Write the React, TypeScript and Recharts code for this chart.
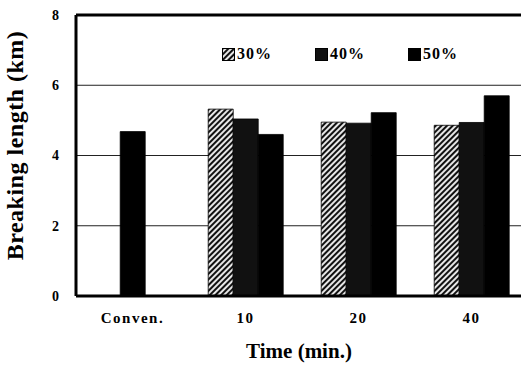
import React from "react";
import {
  BarChart, Bar, XAxis, YAxis, CartesianGrid, ReferenceLine,
} from "recharts";

const categories = ["Conven.", "10", "20", "40"];
const conven = [4.68, null, null, null];
const pct30 = [null, 5.32, 4.95, 4.86];
const pct40 = [null, 5.04, 4.92, 4.94];
const pct50 = [null, 4.6, 5.22, 5.7];
const yTicks = [0, 2, 4, 6, 8];

const FONT = "'Liberation Serif', 'DejaVu Serif', serif";

const data = categories.map((c, i) => ({
  name: c,
  conv: conven[i],
  p30: pct30[i],
  p40: pct40[i],
  p50: pct50[i],
}));

const legendItems = [
  { key: "p30", label: "30%", fill: "url(#hatch)" },
  { key: "p40", label: "40%", fill: "#111" },
  { key: "p50", label: "50%", fill: "#000" },
];

// legend sits inside the plot, drawn as plain html on top of the chart
function ChartLegend() {
  return (
    <div style={{ position: "absolute", left: 222, top: 45, display: "flex", fontFamily: FONT, fontWeight: "bold", fontSize: 16 }}>
      {legendItems.map((it) => (
        <div key={it.key} style={{ display: "flex", alignItems: "center", width: 93 }}>
          <svg width={13} height={13} style={{ marginRight: 2 }}>
            <rect x={0.5} y={0.5} width={12} height={12} fill={it.fill} stroke="#000" />
          </svg>
          <span style={{ letterSpacing: 1 }}>{it.label}</span>
        </div>
      ))}
    </div>
  );
}

export default function App() {
  return (
    <div style={{ position: "absolute", left: 0, top: 0, width: 521, height: 370, overflow: "hidden", background: "#fff" }}>
      <BarChart
        width={540}
        height={370}
        data={data}
        margin={{ top: 15, right: 12, left: 0, bottom: 0 }}
        barCategoryGap="17%"
        barGap={0}
      >
        <defs>
          <pattern id="hatch" width="4" height="4" patternUnits="userSpaceOnUse" patternTransform="rotate(45)">
            <rect width="4" height="4" fill="#e6e6e6" />
            <line x1="1" y1="0" x2="1" y2="4" stroke="#111" strokeWidth="2" />
          </pattern>
        </defs>
        <CartesianGrid vertical={false} stroke="#222" strokeWidth={1} />
        <XAxis
          dataKey="name"
          height={74}
          axisLine={{ stroke: "#000", strokeWidth: 3 }}
          tickLine={false}
          tickSize={6}
          tickMargin={10}
          tick={{ fill: "#000", fontFamily: FONT, fontWeight: "bold", fontSize: 15, letterSpacing: 1.5 }}
          label={{
            value: "Time (min.)",
            position: "insideBottom",
            offset: 12,
            dx: -3,
            style: { fill: "#000", fontFamily: FONT, fontWeight: "bold", fontSize: 21 },
          }}
        />
        <YAxis
          width={76}
          domain={[0, 8]}
          ticks={yTicks}
          axisLine={{ stroke: "#000", strokeWidth: 3 }}
          tickLine={false}
          tickSize={4}
          tickMargin={13}
          tick={{ fill: "#000", fontFamily: FONT, fontWeight: "bold", fontSize: 14 }}
          label={{
            value: "Breaking length (km)",
            angle: -90,
            position: "insideLeft",
            offset: 14,
            dy: -10,
            style: { textAnchor: "middle", fill: "#000", fontFamily: FONT, fontWeight: "bold", fontSize: 24, letterSpacing: 0.5 },
          }}
        />
        <ReferenceLine y={8} stroke="#000" strokeWidth={3} />
        <Bar dataKey="p30" stackId="a" fill="url(#hatch)" stroke="#000" strokeWidth={0.8} isAnimationActive={false} />
        <Bar dataKey="p40" stackId="b" fill="#111" stroke="#000" strokeWidth={0.8} isAnimationActive={false} />
        <Bar dataKey="conv" stackId="b" fill="#000" stroke="#000" strokeWidth={0.8} isAnimationActive={false} />
        <Bar dataKey="p50" stackId="c" fill="#000" stroke="#000" strokeWidth={0.8} isAnimationActive={false} />
      </BarChart>
      <ChartLegend />
    </div>
  );
}
